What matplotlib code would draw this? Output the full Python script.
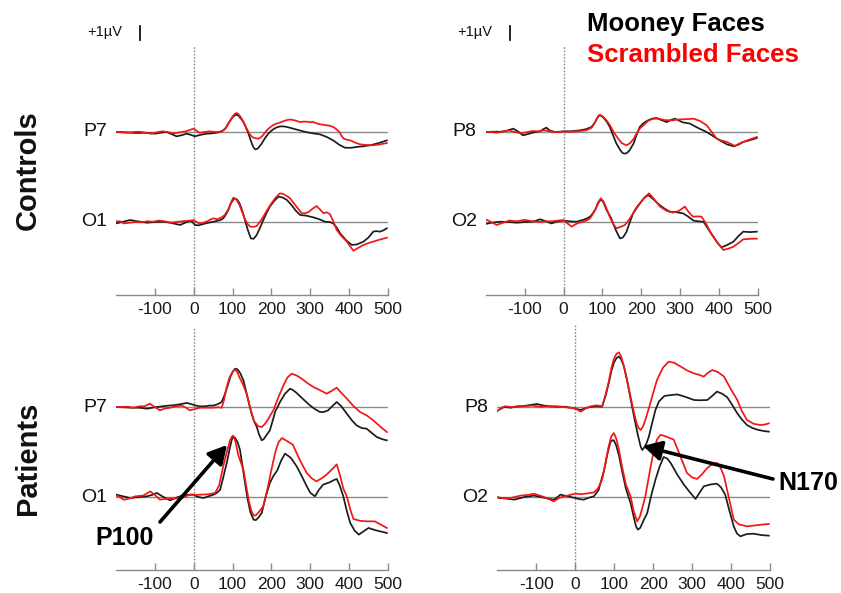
import matplotlib
matplotlib.use("Agg")
import matplotlib.pyplot as plt
from matplotlib import transforms

plt.rcParams['font.family'] = ['Liberation Sans', 'DejaVu Sans']

# ---------------------------------------------------------------- data (ms, µV)
time_ticks = [-100, 0, 100, 200, 300, 400, 500]
condition_names = ["Mooney Faces", "Scrambled Faces"]
group_names = ["Controls", "Patients"]

# Controls, left hemisphere
c_p7_m_t = [-200, -175, -150, -125, -100, -85, -70, -57, -44, -30, -18, -8, 3, 18, 33, 46, 59, 68, 76, 83, 89,
            95, 100, 105, 111, 116, 120, 124, 128, 134, 141, 146, 150, 154, 158, 162, 166, 170, 175, 183, 192,
            198, 205, 213, 222, 231, 240, 256, 272, 291, 308, 325, 342, 359, 374, 389, 404, 419, 436, 454, 475, 497]
c_p7_m_v = [0, -0.02, -0.07, -0.05, -0.12, -0.05, 0, -0.15, -0.31, -0.22, -0.12, -0.2, -0.31, -0.2, -0.12, -0.1,
            -0.05, 0.0, 0.12, 0.3, 0.60, 0.85, 1.05, 1.18, 1.24, 1.15, 1.0, 0.88, 0.71, 0.35, -0.12, -0.55, -0.85,
            -1.1, -1.24, -1.22, -1.15, -1.0, -0.83, -0.45, -0.12, 0.05, 0.2, 0.32, 0.40, 0.40, 0.36, 0.24, 0.12,
            -0.02, -0.1, -0.17, -0.35, -0.60, -0.9, -1.12, -1.13, -1.07, -1.02, -0.95, -0.8, -0.60]
c_p7_s_t = [-200, -185, -170, -155, -140, -125, -110, -95, -80, -65, -50, -35, -20, -10, 0, 7, 15, 28, 40, 50,
            60, 68, 76, 83, 89, 95, 100, 105, 110, 115, 120, 125, 130, 137, 145, 152, 160, 166, 172, 178, 188,
            196, 205, 213, 222, 233, 244, 252, 260, 274, 282, 290, 300, 308, 316, 325, 333, 342, 350, 359, 367,
            375, 380, 386, 395, 403, 415, 428, 445, 462, 480, 497]
c_p7_s_v = [0, -0.03, -0.05, 0, 0.02, -0.05, -0.12, -0.02, 0.05, -0.02, -0.1, -0.02, 0.05, 0.15, 0.24, 0.1,
            -0.05, 0.0, 0.05, 0.02, 0, 0.02, 0.1, 0.3, 0.6, 0.88, 1.1, 1.28, 1.36, 1.28, 1.1, 0.88, 0.6, 0.2,
            -0.2, -0.38, -0.45, -0.48, -0.4, -0.24, 0.12, 0.32, 0.5, 0.6, 0.67, 0.8, 0.88, 0.88, 0.83, 0.71,
            0.74, 0.74, 0.7, 0.71, 0.62, 0.55, 0.52, 0.48, 0.45, 0.36, 0.2, 0.0, -0.25, -0.48, -0.55, -0.6,
            -0.75, -0.88, -0.93, -0.95, -0.88, -0.79]
c_o1_m_t = [-200, -185, -164, -145, -120, -100, -80, -60, -45, -35, -22, -10, -3, 3, 12, 25, 38, 51, 63, 70,
            76, 82, 89, 96, 104, 111, 118, 125, 132, 139, 147, 154, 162, 170, 179, 187, 196, 207, 218, 229, 240,
            252, 263, 274, 290, 308, 323, 338, 350, 359, 368, 377, 392, 407, 420, 437, 450, 462, 470, 479, 488, 497]
c_o1_m_v = [-0.1, 0.0, 0.14, 0.05, -0.05, 0.0, 0.02, -0.05, -0.15, -0.21, -0.05, 0.07, 0.0, -0.21, -0.24,
            -0.14, -0.05, 0.02, 0.1, 0.15, 0.26, 0.5, 0.86, 1.35, 1.69, 1.62, 1.33, 0.8, 0.14, -0.55, -1.17,
            -1.2, -0.93, -0.45, 0.14, 0.62, 1.10, 1.5, 1.81, 1.75, 1.57, 1.2, 0.8, 0.50, 0.45, 0.33, 0.2, 0.02,
            0.0, -0.10, -0.4, -0.81, -1.3, -1.64, -1.6, -1.40, -1.1, -0.69, -0.65, -0.69, -0.6, -0.45]
c_o1_s_t = [-200, -190, -180, -165, -150, -135, -120, -105, -90, -75, -60, -45, -30, -10, 0, 7, 15, 25, 35,
            45, 51, 60, 70, 80, 89, 96, 102, 110, 118, 125, 132, 139, 145, 154, 162, 170, 179, 190, 200, 211,
            222, 230, 240, 248, 263, 278, 288, 297, 306, 316, 325, 334, 342, 351, 360, 368, 380, 394, 403, 411,
            420, 437, 450, 462, 480, 497]
c_o1_s_v = [0.05, 0.05, -0.1, -0.05, 0.0, -0.02, 0.05, 0.02, 0.1, 0.05, -0.05, 0.0, 0.05, 0.1, 0.14, 0.0,
            -0.1, -0.05, 0.05, 0.2, 0.26, 0.2, 0.3, 0.5, 0.9, 1.4, 1.74, 1.6, 1.2, 0.7, 0.2, -0.15, -0.33,
            -0.35, -0.29, 0.0, 0.38, 0.9, 1.33, 1.75, 2.05, 2.0, 1.85, 1.69, 1.15, 0.62, 0.62, 0.74, 0.95, 1.14,
            0.9, 0.62, 0.7, 0.55, 0.0, -0.57, -1.0, -1.40, -1.75, -2.05, -1.9, -1.64, -1.5, -1.40, -1.25, -1.12]

# Controls, right hemisphere
c_p8_m_t = [-200, -180, -160, -145, -129, -115, -104, -92, -80, -60, -52, -44, -35, -22, -10, 0, 20, 42, 58,
            72, 79, 85, 89, 93, 99, 105, 112, 119, 127, 136, 146, 152, 158, 164, 170, 180, 188, 196, 205, 215,
            227, 239, 252, 265, 276, 286, 295, 305, 325, 345, 368, 385, 402, 420, 437, 450, 462, 480, 497]
c_p8_m_v = [0, 0.02, 0.02, 0.1, 0.24, 0, -0.24, -0.15, -0.05, 0.05, 0.2, 0.31, 0.1, 0, 0.02, 0.05, 0.05, 0.12,
            0.2, 0.36, 0.6, 0.9, 1.1, 1.19, 1.12, 0.95, 0.7, 0.36, -0.2, -0.83, -1.3, -1.5, -1.55, -1.48, -1.3,
            -0.83, -0.2, 0.36, 0.62, 0.8, 0.95, 1.0, 0.85, 0.71, 0.85, 0.95, 0.85, 0.7, 0.6, 0.3, 0, -0.3,
            -0.60, -0.88, -1.02, -0.9, -0.71, -0.58, -0.43]
c_p8_s_t = [-200, -185, -170, -155, -140, -125, -110, -95, -80, -65, -50, -36, -22, 0, 20, 42, 58, 72, 79, 85,
            89, 93, 99, 105, 112, 119, 130, 140, 150, 162, 171, 180, 188, 196, 208, 218, 230, 245, 260, 280, 290,
            300, 318, 334, 350, 368, 381, 394, 407, 420, 430, 441, 450, 462, 480, 497]
c_p8_s_v = [0, 0.0, -0.05, 0.05, 0.1, 0.0, -0.1, -0.02, 0.07, 0.05, 0.12, 0.05, 0, 0.02, 0.02, 0.07, 0.12,
            0.3, 0.6, 0.9, 1.12, 1.24, 1.15, 1.0, 0.78, 0.5, -0.05, -0.45, -0.8, -0.95, -0.8, -0.5, -0.1, 0.24,
            0.55, 0.8, 0.95, 0.95, 0.85, 0.83, 0.88, 0.9, 0.92, 0.95, 0.8, 0.48, 0.0, -0.48, -0.62, -0.71, -0.85,
            -1.0, -0.85, -0.71, -0.52, -0.36]
c_o2_m_t = [-200, -185, -163, -140, -120, -100, -80, -70, -60, -45, -31, -15, 0, 15, 33, 50, 60, 68, 75, 82,
            89, 96, 103, 110, 116, 122, 134, 145, 153, 162, 170, 179, 187, 196, 207, 218, 232, 247, 260, 273, 290,
            307, 320, 334, 347, 360, 372, 385, 396, 406, 420, 437, 450, 462, 480, 497]
c_o2_m_v = [-0.14, -0.05, 0.02, 0.0, -0.05, 0.0, 0.02, 0.1, 0.19, 0.05, -0.1, 0.05, 0.1, 0.05, 0.02, 0.15,
            0.25, 0.38, 0.6, 0.9, 1.35, 1.62, 1.4, 0.9, 0.6, 0.3, -0.55, -1.17, -1.1, -0.7, -0.05, 0.62, 1.0,
            1.33, 1.7, 1.93, 1.6, 1.21, 0.95, 0.74, 0.7, 0.62, 0.4, 0.1, 0.05, 0.02, -0.5, -1.05, -1.5, -1.81,
            -1.65, -1.40, -1.0, -0.69, -0.72, -0.69]
c_o2_s_t = [-200, -186, -172, -155, -140, -120, -100, -80, -60, -45, -30, -15, 0, 10, 21, 35, 50, 60, 68, 75,
            82, 89, 96, 103, 110, 120, 128, 136, 147, 158, 168, 179, 190, 200, 210, 220, 234, 248, 265, 282, 297,
            312, 322, 333, 345, 355, 366, 377, 394, 411, 424, 437, 450, 462, 480, 497]
c_o2_s_v = [0.19, 0.0, -0.21, -0.05, 0.1, 0.05, 0.15, 0.05, 0.0, 0.05, 0.05, 0.1, 0.14, -0.1, -0.33, -0.1,
            0.02, 0.12, 0.26, 0.55, 0.9, 1.4, 1.69, 1.45, 1.0, 0.3, -0.15, -0.45, -0.35, -0.21, 0.15, 0.62, 1.05,
            1.45, 1.8, 2.05, 1.6, 1.10, 0.8, 0.67, 0.8, 1.10, 0.7, 0.38, 0.4, 0.38, -0.1, -0.69, -1.4, -2.0, -1.9,
            -1.76, -1.5, -1.24, -1.2, -1.19]

# Patients, left hemisphere
p_p7_m_t = [-200, -180, -160, -140, -120, -100, -80, -65, -52, -35, -18, -8, 3, 15, 30, 40, 50, 62, 72, 80, 89,
            95, 100, 105, 109, 114, 120, 128, 135, 142, 149, 155, 162, 168, 175, 180, 185, 190, 196, 203, 210, 216,
            222, 235, 248, 256, 265, 282, 299, 312, 325, 335, 346, 358, 368, 380, 394, 407, 419, 432, 445, 458,
            471, 485, 497]
p_p7_m_v = [0, -0.02, -0.05, -0.05, -0.12, -0.02, 0.05, 0.1, 0.12, 0.2, 0.29, 0.22, 0.12, 0.05, 0.05, 0.1, 0.1,
            0.2, 0.36, 0.9, 1.67, 2.2, 2.5, 2.7, 2.74, 2.65, 2.4, 1.9, 1.1, 0.3, -0.48, -1.0, -1.4, -1.95, -2.38,
            -2.3, -2.1, -1.9, -1.67, -1.0, -0.3, 0.0, 0.36, 0.95, 1.31, 1.2, 1.0, 0.55, 0.12, -0.15, -0.36, -0.35,
            -0.24, 0.1, 0.36, 0.05, -0.48, -0.95, -1.31, -1.5, -1.55, -1.85, -2.14, -2.3, -2.38]
p_p7_s_t = [-200, -185, -170, -155, -140, -127, -113, -100, -87, -73, -60, -45, -30, -20, -10, 3, 16, 33, 50,
            62, 72, 78, 85, 92, 100, 106, 112, 118, 127, 136, 145, 155, 165, 175, 182, 190, 197, 205, 218, 231,
            241, 252, 265, 278, 293, 308, 325, 342, 355, 368, 380, 394, 410, 428, 445, 462, 480, 497]
p_p7_s_v = [0, 0.0, 0.02, -0.05, 0.05, 0.05, 0.24, 0.0, -0.24, -0.1, -0.05, 0.05, 0.1, -0.05, -0.24, -0.15,
            -0.05, -0.05, -0.05, -0.02, -0.05, 0.5, 1.43, 2.1, 2.5, 2.69, 2.5, 2.1, 1.6, 0.95, -0.05, -1.0, -1.35,
            -1.43, -1.25, -0.95, -0.6, -0.24, 0.7, 1.55, 2.1, 2.38, 2.25, 2.02, 1.7, 1.43, 1.2, 0.95, 1.15, 1.38,
            1.0, 0.6, 0.1, -0.36, -0.6, -0.95, -1.4, -1.79]
p_o1_m_t = [-200, -182, -164, -140, -120, -107, -95, -78, -61, -45, -30, -15, -1, 12, 25, 38, 51, 60, 68, 76,
            85, 93, 98, 102, 107, 113, 119, 125, 132, 139, 146, 154, 160, 167, 175, 185, 196, 205, 215, 225, 235,
            250, 265, 278, 291, 300, 312, 322, 333, 350, 360, 368, 376, 385, 394, 403, 414, 425, 437, 450, 465,
            479, 497]
p_o1_m_v = [0.17, 0.05, -0.07, 0.0, 0.05, 0.15, 0.29, 0.0, -0.24, -0.05, 0.1, 0.15, 0.17, 0.0, -0.07, 0.05,
            0.17, 0.3, 0.52, 1.4, 2.43, 3.5, 4.1, 4.33, 4.2, 3.9, 3.38, 2.3, 1.0, -0.2, -1.1, -1.62, -1.65, -1.45,
            -1.14, 0.0, 1.0, 1.5, 1.9, 2.6, 3.1, 2.8, 2.19, 1.5, 0.76, 0.3, 0.05, 0.5, 0.88, 1.05, 1.2, 1.29, 0.8,
            0.05, -1.0, -1.86, -2.4, -2.69, -2.45, -2.21, -2.35, -2.45, -2.57]
p_o1_s_t = [-200, -190, -180, -165, -150, -130, -112, -100, -87, -75, -60, -45, -30, -20, -10, 5, 20, 40, 55,
            65, 76, 85, 93, 98, 102, 108, 115, 121, 128, 135, 142, 148, 154, 160, 167, 179, 190, 200, 210, 218,
            227, 240, 255, 272, 291, 303, 316, 330, 342, 355, 368, 376, 385, 394, 403, 411, 428, 445, 466, 480, 497]
p_o1_s_v = [0.1, 0.0, -0.2, -0.1, 0.05, 0.1, 0.4, 0.15, -0.19, -0.15, -0.1, -0.1, -0.07, 0.05, 0.17, 0.15,
            0.17, 0.2, 0.29, 0.8, 2.19, 3.2, 4.0, 4.3, 4.38, 3.9, 2.95, 2.5, 1.95, 0.8, -0.3, -0.95, -1.33, -1.3,
            -1.1, -0.67, 0.6, 1.95, 3.2, 3.9, 4.21, 4.0, 3.74, 2.7, 1.71, 1.35, 1.12, 1.35, 1.6, 1.95, 2.33, 1.6,
            0.6, 0.05, -0.9, -1.57, -1.7, -1.74, -1.74, -1.95, -2.21]

# Patients, right hemisphere
p_p8_m_t = [-196, -183, -165, -150, -132, -115, -98, -80, -65, -46, -25, -3, 14, 25, 39, 55, 69, 78, 86, 93,
            100, 106, 112, 118, 125, 133, 142, 151, 160, 168, 172, 177, 183, 189, 197, 206, 215, 229, 245, 262,
            280, 305, 320, 339, 352, 364, 377, 390, 403, 416, 428, 441, 455, 470, 485, 497]
p_p8_m_v = [-0.21, 0.0, -0.05, 0.05, 0.07, 0.15, 0.21, 0.1, 0.05, 0.02, 0.02, -0.1, -0.21, -0.1, 0.0, 0.05,
            0.02, 0.8, 1.69, 2.6, 3.2, 3.5, 3.6, 3.4, 2.9, 1.93, 0.6, -0.69, -1.9, -2.83, -3.07, -2.9, -2.6,
            -2.12, -1.2, -0.21, 0.4, 0.79, 0.85, 0.90, 0.75, 0.50, 0.48, 0.50, 0.8, 1.10, 0.95, 0.7, 0.15, -0.45,
            -0.9, -1.29, -1.5, -1.64, -1.72, -1.76]
p_p8_s_t = [-200, -190, -180, -165, -150, -130, -110, -90, -70, -50, -30, -15, 0, 14, 27, 40, 55, 69, 78, 86,
            93, 100, 106, 112, 118, 125, 133, 142, 150, 158, 163, 168, 174, 180, 190, 200, 210, 225, 240, 255, 270,
            288, 305, 318, 330, 341, 352, 366, 382, 399, 416, 428, 441, 458, 476, 487, 497]
p_p8_s_v = [-0.3, -0.05, 0.05, 0.0, 0.0, 0.05, 0.1, 0.02, 0.05, 0.05, 0.0, -0.05, -0.1, -0.33, -0.1, 0.05,
            0.12, 0.05, 0.9, 1.8, 2.8, 3.5, 3.8, 3.9, 3.6, 2.9, 1.9, 0.74, -0.3, -1.2, -1.5, -1.64, -1.4, -0.93,
            0.0, 1.0, 1.93, 2.8, 3.24, 3.15, 2.9, 2.6, 2.40, 2.3, 2.17, 2.45, 2.64, 2.5, 2.17, 1.3, 0.5, -0.3,
            -0.93, -1.2, -1.29, -1.25, -1.17]
p_o2_m_t = [-196, -180, -157, -130, -106, -80, -55, -45, -38, -20, 0, 10, 22, 35, 48, 60, 68, 74, 82, 90, 95,
            99, 105, 112, 120, 130, 142, 150, 156, 161, 167, 175, 185, 195, 206, 217, 227, 236, 245, 262, 279, 294,
            309, 319, 330, 348, 364, 374, 385, 396, 407, 415, 424, 440, 458, 478, 497]
p_o2_m_v = [-0.07, -0.1, -0.19, 0.0, 0.1, -0.05, -0.19, 0.0, 0.17, 0.05, -0.07, -0.15, -0.19, -0.05, 0.05,
            0.5, 1.3, 1.9, 3.0, 3.9, 4.05, 4.05, 3.7, 3.0, 1.9, 0.6, -0.43, -1.4, -2.1, -2.33, -2.2, -1.7, -1.14,
            0.1, 1.24, 2.2, 2.86, 2.75, 2.43, 1.6, 0.88, 0.35, -0.14, 0.3, 0.76, 0.9, 0.95, 0.7, 0.17, -1.0,
            -2.10, -2.6, -2.81, -2.65, -2.62, -2.72, -2.76]
p_o2_s_t = [-200, -183, -166, -140, -120, -106, -80, -55, -40, -20, 1, 15, 30, 48, 58, 69, 77, 85, 92, 99,
            105, 112, 120, 130, 142, 150, 159, 166, 173, 180, 190, 202, 210, 219, 235, 253, 270, 287, 300, 313,
            326, 339, 352, 364, 373, 382, 394, 407, 420, 441, 470, 487, 497]
p_o2_s_v = [0.0, -0.1, -0.07, 0.1, 0.15, 0.24, 0.0, -0.31, -0.05, 0.1, 0.24, 0.2, 0.25, 0.33, 0.6, 1.24, 2.3,
            3.5, 4.3, 4.57, 4.2, 3.4, 2.2, 0.9, 0.05, -1.0, -1.74, -1.4, -0.7, 0.05, 1.6, 3.38, 4.1, 4.45, 4.3,
            4.1, 2.9, 1.71, 1.4, 1.29, 1.65, 2.07, 2.35, 2.43, 2.1, 1.48, 0.0, -1.62, -1.95, -2.10, -2.0, -1.95,
            -1.93]

# ---------------------------------------------------------------- layout (pixels)
W, H = 841, 593
PX_PER_UV = 14.0
BLACK = '#1c1c1c'
RED = '#f21616'
GREY = '#8a8a8a'

fig = plt.figure(figsize=(W / 100, H / 100), dpi=100)


def make_panel(x0, x1, ytop, ybot, base_hi, base_lo, channels, curves, scale_bar):
    ax = fig.add_axes([x0 / W, 1 - ybot / H, (x1 - x0) / W, (ybot - ytop) / H])
    offset = (base_lo - base_hi) / PX_PER_UV
    ax.set_xlim(-200, 500)
    ax.set_ylim((base_lo - ybot) / PX_PER_UV, (base_lo - ytop) / PX_PER_UV)
    for s in ('top', 'right', 'left'):
        ax.spines[s].set_visible(False)
    ax.spines['bottom'].set_color(GREY)
    ax.spines['bottom'].set_linewidth(1.0)
    ax.set_yticks([])
    ax.set_xticks(time_ticks)
    ax.set_xticklabels([str(t) for t in time_ticks])
    ax.tick_params(axis='x', direction='in', length=5, width=1.0, color=GREY,
                   labelsize=12.5, labelcolor='#1a1a1a', pad=5)
    ax.patch.set_alpha(0)

    ax.axvline(0, color=GREY, lw=1.0, ls=(0, (1.2, 1.2)))
    for off in (offset, 0.0):
        ax.axhline(off, color=GREY, lw=1.0)

    (t_hm, v_hm, t_hs, v_hs), (t_lm, v_lm, t_ls, v_ls) = curves
    ax.plot(t_hm, [v + offset for v in v_hm], color=BLACK, lw=1.25)
    ax.plot(t_hs, [v + offset for v in v_hs], color=RED, lw=1.25)
    ax.plot(t_lm, v_lm, color=BLACK, lw=1.25)
    ax.plot(t_ls, v_ls, color=RED, lw=1.25)

    lab = transforms.blended_transform_factory(ax.transAxes, ax.transData)
    gap = -9.0 / (x1 - x0)
    ax.text(gap, offset, channels[0], transform=lab, ha='right', va='center', fontsize=14, color='#111')
    ax.text(gap, 0.0, channels[1], transform=lab, ha='right', va='center', fontsize=14, color='#111')

    if scale_bar:
        ax.plot([-138, -138], [13.0, 14.0], color='#111', lw=1.3, clip_on=False)
        ax.text(-183, 13.6, "+1µV", ha='right', va='center', fontsize=10.5, color='#111')
    return ax


make_panel(116, 388, 45, 295, 132, 222, ("P7", "O1"),
           ((c_p7_m_t, c_p7_m_v, c_p7_s_t, c_p7_s_v), (c_o1_m_t, c_o1_m_v, c_o1_s_t, c_o1_s_v)), True)
make_panel(485.7, 758, 45, 295, 132, 222, ("P8", "O2"),
           ((c_p8_m_t, c_p8_m_v, c_p8_s_t, c_p8_s_v), (c_o2_m_t, c_o2_m_v, c_o2_s_t, c_o2_s_v)), True)
make_panel(116, 388, 327, 570, 407, 497, ("P7", "O1"),
           ((p_p7_m_t, p_p7_m_v, p_p7_s_t, p_p7_s_v), (p_o1_m_t, p_o1_m_v, p_o1_s_t, p_o1_s_v)), False)
make_panel(497.3, 770, 325, 570, 407, 497, ("P8", "O2"),
           ((p_p8_m_t, p_p8_m_v, p_p8_s_t, p_p8_s_v), (p_o2_m_t, p_o2_m_v, p_o2_s_t, p_o2_s_v)), False)

# group labels
fig.text(28 / W, 1 - 170 / H, group_names[0], rotation=90, ha='center', va='center',
         fontsize=21, fontweight='bold', color='#111')
fig.text(28 / W, 1 - 458 / H, group_names[1], rotation=90, ha='center', va='center',
         fontsize=21, fontweight='bold', color='#111')

# condition key
fig.text(587 / W, 1 - 31 / H, condition_names[0], ha='left', va='baseline',
         fontsize=18.5, fontweight='bold', color='#000')
fig.text(587 / W, 1 - 62 / H, condition_names[1], ha='left', va='baseline',
         fontsize=18.5, fontweight='bold', color='#ff0000')

# component annotations
arrow_kw = dict(arrowstyle='-|>,head_length=0.55,head_width=0.3', lw=2.6, color='black',
                shrinkA=0, shrinkB=0, mutation_scale=20)
fig.text(95 / W, 1 - 545 / H, "P100", ha='left', va='baseline', fontsize=18, fontweight='bold', color='#000')
fig.add_artist(plt.Annotation("", xy=(227, H - 445), xytext=(160, H - 522),
                              xycoords='figure pixels', textcoords='figure pixels', arrowprops=arrow_kw))
fig.text(778 / W, 1 - 490 / H, "N170", ha='left', va='baseline', fontsize=18, fontweight='bold', color='#000')
fig.add_artist(plt.Annotation("", xy=(643, H - 446), xytext=(773, H - 479),
                              xycoords='figure pixels', textcoords='figure pixels', arrowprops=arrow_kw))

fig.savefig("out.png", dpi=100)
